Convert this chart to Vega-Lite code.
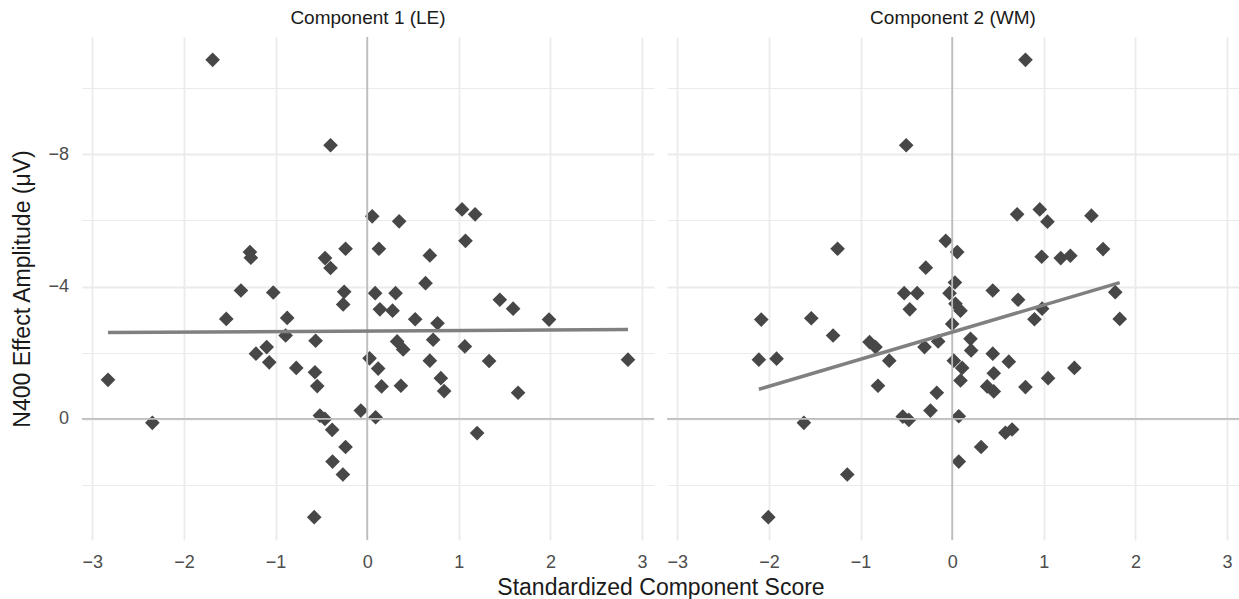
{
  "$schema": "https://vega.github.io/schema/vega-lite/v6.json",
  "background": "white",
  "padding": {"left": 11, "top": 9, "right": 0, "bottom": 0},
  "data": {"values": [
    {"component": "Component 1 (LE)", "score": -1.687, "amp": -10.85},
    {"component": "Component 1 (LE)", "score": -0.40, "amp": -8.27},
    {"component": "Component 1 (LE)", "score": 0.055, "amp": -6.12},
    {"component": "Component 1 (LE)", "score": -1.28, "amp": -5.04},
    {"component": "Component 1 (LE)", "score": -1.27, "amp": -4.87},
    {"component": "Component 1 (LE)", "score": -0.236, "amp": -5.14},
    {"component": "Component 1 (LE)", "score": -0.46, "amp": -4.86},
    {"component": "Component 1 (LE)", "score": -0.40, "amp": -4.56},
    {"component": "Component 1 (LE)", "score": 0.128, "amp": -5.14},
    {"component": "Component 1 (LE)", "score": 0.349, "amp": -5.97},
    {"component": "Component 1 (LE)", "score": 0.684, "amp": -4.94},
    {"component": "Component 1 (LE)", "score": 1.036, "amp": -6.33},
    {"component": "Component 1 (LE)", "score": 1.178, "amp": -6.18},
    {"component": "Component 1 (LE)", "score": 1.073, "amp": -5.38},
    {"component": "Component 1 (LE)", "score": 0.637, "amp": -4.10},
    {"component": "Component 1 (LE)", "score": -1.378, "amp": -3.88},
    {"component": "Component 1 (LE)", "score": -1.025, "amp": -3.82},
    {"component": "Component 1 (LE)", "score": -0.251, "amp": -3.84},
    {"component": "Component 1 (LE)", "score": 0.087, "amp": -3.80},
    {"component": "Component 1 (LE)", "score": -0.262, "amp": -3.46},
    {"component": "Component 1 (LE)", "score": 0.139, "amp": -3.31},
    {"component": "Component 1 (LE)", "score": -1.538, "amp": -3.02},
    {"component": "Component 1 (LE)", "score": -0.873, "amp": -3.05},
    {"component": "Component 1 (LE)", "score": -0.89, "amp": -2.52},
    {"component": "Component 1 (LE)", "score": -0.563, "amp": -2.36},
    {"component": "Component 1 (LE)", "score": -1.214, "amp": -1.97},
    {"component": "Component 1 (LE)", "score": -1.097, "amp": -2.17},
    {"component": "Component 1 (LE)", "score": -1.069, "amp": -1.71},
    {"component": "Component 1 (LE)", "score": -0.774, "amp": -1.54},
    {"component": "Component 1 (LE)", "score": -0.57, "amp": -1.41},
    {"component": "Component 1 (LE)", "score": -0.545, "amp": -0.99},
    {"component": "Component 1 (LE)", "score": 0.026, "amp": -1.83},
    {"component": "Component 1 (LE)", "score": 0.12, "amp": -1.52},
    {"component": "Component 1 (LE)", "score": 0.157, "amp": -0.98},
    {"component": "Component 1 (LE)", "score": -2.829, "amp": -1.18},
    {"component": "Component 1 (LE)", "score": -2.345, "amp": 0.12},
    {"component": "Component 1 (LE)", "score": -0.516, "amp": -0.10},
    {"component": "Component 1 (LE)", "score": -0.461, "amp": 0.0},
    {"component": "Component 1 (LE)", "score": -0.382, "amp": 0.33},
    {"component": "Component 1 (LE)", "score": -0.069, "amp": -0.25},
    {"component": "Component 1 (LE)", "score": 0.092, "amp": -0.05},
    {"component": "Component 1 (LE)", "score": -0.236, "amp": 0.85},
    {"component": "Component 1 (LE)", "score": -0.378, "amp": 1.29},
    {"component": "Component 1 (LE)", "score": -0.265, "amp": 1.68},
    {"component": "Component 1 (LE)", "score": -0.578, "amp": 2.97},
    {"component": "Component 1 (LE)", "score": 0.31, "amp": -3.80},
    {"component": "Component 1 (LE)", "score": 0.277, "amp": -3.27},
    {"component": "Component 1 (LE)", "score": 0.524, "amp": -3.01},
    {"component": "Component 1 (LE)", "score": 0.768, "amp": -2.89},
    {"component": "Component 1 (LE)", "score": 1.448, "amp": -3.60},
    {"component": "Component 1 (LE)", "score": 1.593, "amp": -3.33},
    {"component": "Component 1 (LE)", "score": 1.985, "amp": -3.00},
    {"component": "Component 1 (LE)", "score": 0.327, "amp": -2.34},
    {"component": "Component 1 (LE)", "score": 0.393, "amp": -2.10},
    {"component": "Component 1 (LE)", "score": 0.72, "amp": -2.39},
    {"component": "Component 1 (LE)", "score": 1.066, "amp": -2.19},
    {"component": "Component 1 (LE)", "score": 0.684, "amp": -1.76},
    {"component": "Component 1 (LE)", "score": 1.331, "amp": -1.75},
    {"component": "Component 1 (LE)", "score": 2.847, "amp": -1.79},
    {"component": "Component 1 (LE)", "score": 0.368, "amp": -1.0},
    {"component": "Component 1 (LE)", "score": 0.804, "amp": -1.23},
    {"component": "Component 1 (LE)", "score": 0.84, "amp": -0.84},
    {"component": "Component 1 (LE)", "score": 1.647, "amp": -0.79},
    {"component": "Component 1 (LE)", "score": 1.2, "amp": 0.43},
    {"component": "Component 2 (WM)", "score": 0.80, "amp": -10.85},
    {"component": "Component 2 (WM)", "score": -0.502, "amp": -8.27},
    {"component": "Component 2 (WM)", "score": -1.251, "amp": -5.14},
    {"component": "Component 2 (WM)", "score": -0.07, "amp": -5.38},
    {"component": "Component 2 (WM)", "score": 0.055, "amp": -5.04},
    {"component": "Component 2 (WM)", "score": -0.288, "amp": -4.57},
    {"component": "Component 2 (WM)", "score": 0.03, "amp": -4.12},
    {"component": "Component 2 (WM)", "score": 0.709, "amp": -6.18},
    {"component": "Component 2 (WM)", "score": 0.956, "amp": -6.33},
    {"component": "Component 2 (WM)", "score": 1.04, "amp": -5.96},
    {"component": "Component 2 (WM)", "score": 1.52, "amp": -6.14},
    {"component": "Component 2 (WM)", "score": 0.977, "amp": -4.90},
    {"component": "Component 2 (WM)", "score": 1.185, "amp": -4.86},
    {"component": "Component 2 (WM)", "score": 1.29, "amp": -4.93},
    {"component": "Component 2 (WM)", "score": 1.647, "amp": -5.13},
    {"component": "Component 2 (WM)", "score": -0.524, "amp": -3.80},
    {"component": "Component 2 (WM)", "score": -0.382, "amp": -3.80},
    {"component": "Component 2 (WM)", "score": -0.029, "amp": -3.80},
    {"component": "Component 2 (WM)", "score": -0.463, "amp": -3.31},
    {"component": "Component 2 (WM)", "score": -2.084, "amp": -3.00},
    {"component": "Component 2 (WM)", "score": -1.538, "amp": -3.04},
    {"component": "Component 2 (WM)", "score": -1.30, "amp": -2.52},
    {"component": "Component 2 (WM)", "score": -0.902, "amp": -2.32},
    {"component": "Component 2 (WM)", "score": -0.837, "amp": -2.17},
    {"component": "Component 2 (WM)", "score": -0.687, "amp": -1.76},
    {"component": "Component 2 (WM)", "score": -0.302, "amp": -2.17},
    {"component": "Component 2 (WM)", "score": -0.153, "amp": -2.34},
    {"component": "Component 2 (WM)", "score": 0.0, "amp": -2.87},
    {"component": "Component 2 (WM)", "score": 0.018, "amp": -1.76},
    {"component": "Component 2 (WM)", "score": -2.11, "amp": -1.79},
    {"component": "Component 2 (WM)", "score": -1.917, "amp": -1.82},
    {"component": "Component 2 (WM)", "score": -0.81, "amp": -1.0},
    {"component": "Component 2 (WM)", "score": -0.168, "amp": -0.79},
    {"component": "Component 2 (WM)", "score": -0.237, "amp": -0.25},
    {"component": "Component 2 (WM)", "score": -0.539, "amp": -0.07},
    {"component": "Component 2 (WM)", "score": -0.473, "amp": 0.03},
    {"component": "Component 2 (WM)", "score": 0.072, "amp": -0.08},
    {"component": "Component 2 (WM)", "score": -1.619, "amp": 0.12},
    {"component": "Component 2 (WM)", "score": -1.145, "amp": 1.68},
    {"component": "Component 2 (WM)", "score": -2.007, "amp": 2.97},
    {"component": "Component 2 (WM)", "score": 0.072, "amp": 1.29},
    {"component": "Component 2 (WM)", "score": 0.443, "amp": -3.88},
    {"component": "Component 2 (WM)", "score": 0.72, "amp": -3.60},
    {"component": "Component 2 (WM)", "score": 0.982, "amp": -3.33},
    {"component": "Component 2 (WM)", "score": 1.78, "amp": -3.83},
    {"component": "Component 2 (WM)", "score": 1.829, "amp": -3.02},
    {"component": "Component 2 (WM)", "score": 0.898, "amp": -3.01},
    {"component": "Component 2 (WM)", "score": 0.036, "amp": -3.48},
    {"component": "Component 2 (WM)", "score": 0.091, "amp": -3.27},
    {"component": "Component 2 (WM)", "score": 0.2, "amp": -2.42},
    {"component": "Component 2 (WM)", "score": 0.207, "amp": -2.07},
    {"component": "Component 2 (WM)", "score": 0.443, "amp": -1.97},
    {"component": "Component 2 (WM)", "score": 0.618, "amp": -1.73},
    {"component": "Component 2 (WM)", "score": 0.109, "amp": -1.54},
    {"component": "Component 2 (WM)", "score": 0.454, "amp": -1.38},
    {"component": "Component 2 (WM)", "score": 0.091, "amp": -1.16},
    {"component": "Component 2 (WM)", "score": 0.382, "amp": -0.98},
    {"component": "Component 2 (WM)", "score": 0.454, "amp": -0.83},
    {"component": "Component 2 (WM)", "score": 0.80, "amp": -0.96},
    {"component": "Component 2 (WM)", "score": 1.047, "amp": -1.23},
    {"component": "Component 2 (WM)", "score": 1.334, "amp": -1.54},
    {"component": "Component 2 (WM)", "score": 0.581, "amp": 0.42},
    {"component": "Component 2 (WM)", "score": 0.654, "amp": 0.32},
    {"component": "Component 2 (WM)", "score": 0.316, "amp": 0.85}
  ]},
  "facet": {
    "column": {
      "field": "component",
      "type": "nominal",
      "title": "Standardized Component Score",
      "header": {
        "labelOrient": "top",
        "titleOrient": "bottom",
        "labelFont": "Liberation Sans",
        "labelFontSize": 19,
        "labelColor": "#1A1A1A",
        "labelPadding": 8,
        "titleFont": "Liberation Sans",
        "titleFontSize": 23,
        "titleFontWeight": "normal",
        "titleColor": "#1A1A1A",
        "titlePadding": -5
      }
    }
  },
  "spacing": 11,
  "spec": {
    "width": 572,
    "height": 503,
    "layer": [
      {
        "mark": {"type": "point", "shape": "diamond", "filled": true, "size": 215, "color": "#474747", "opacity": 1, "strokeWidth": 0},
        "encoding": {
          "x": {
            "field": "score",
            "type": "quantitative",
            "scale": {"domain": [-3.113, 3.131], "nice": false, "zero": false},
            "axis": {
              "title": null,
              "format": "d",
              "values": [-3, -2.5, -2, -1.5, -1, -0.5, 0, 0.5, 1, 1.5, 2, 2.5, 3],
              "labelExpr": "datum.value % 1 === 0 ? datum.label : ''",
              "gridWidth": {"condition": {"test": "datum.value % 1 === 0", "value": 1.8}, "value": 1},
              "labelPadding": 12.5
            }
          },
          "y": {
            "field": "amp",
            "type": "quantitative",
            "scale": {"domain": [-11.54, 3.66], "nice": false, "zero": false, "reverse": true},
            "axis": {
              "title": "N400 Effect Amplitude (μV)",
              "format": "d",
              "values": [-10, -8, -6, -4, -2, 0, 2],
              "labelExpr": "datum.value % 4 === 0 ? datum.label : ''",
              "gridWidth": {"condition": {"test": "datum.value % 4 === 0", "value": 1.8}, "value": 1},
              "labelPadding": 12.5,
              "titlePadding": 13
            }
          }
        }
      },
      {
        "transform": [{"aggregate": [{"op": "count", "as": "n"}], "groupby": ["component"]}],
        "mark": {"type": "rule", "color": "#BEBEBE", "strokeWidth": 1.8},
        "encoding": {"x": {"datum": 0, "type": "quantitative"}}
      },
      {
        "transform": [{"aggregate": [{"op": "count", "as": "n"}], "groupby": ["component"]}],
        "mark": {"type": "rule", "color": "#BEBEBE", "strokeWidth": 1.8},
        "encoding": {"y": {"datum": 0, "type": "quantitative"}}
      },
      {
        "transform": [{"regression": "amp", "on": "score", "groupby": ["component"]}],
        "mark": {"type": "line", "color": "#808080", "strokeWidth": 3.5},
        "encoding": {
          "x": {"field": "score", "type": "quantitative"},
          "y": {"field": "amp", "type": "quantitative"}
        }
      }
    ]
  },
  "config": {
    "view": {"stroke": null},
    "axis": {
      "domain": false,
      "ticks": false,
      "tickSize": 0,
      "grid": true,
      "gridColor": "#EBEBEB",
      "labelFont": "Liberation Sans",
      "labelFontSize": 18,
      "labelColor": "#4D4D4D",
      "labelFlush": false,
      "labelOverlap": false,
      "titleFont": "Liberation Sans",
      "titleFontSize": 23,
      "titleFontWeight": "normal",
      "titleColor": "#1A1A1A"
    }
  }
}
